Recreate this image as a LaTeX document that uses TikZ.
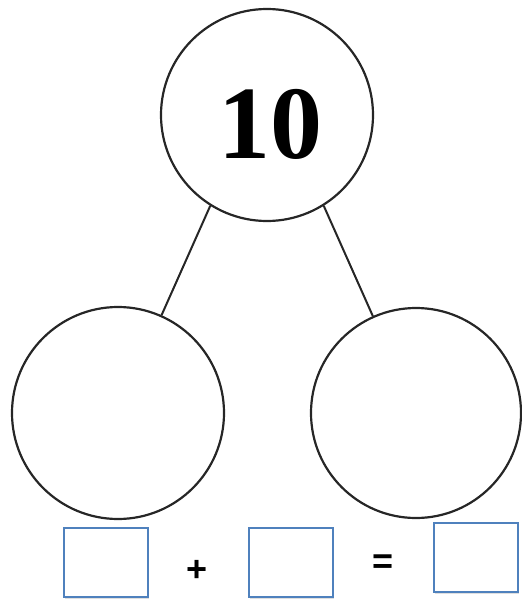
\documentclass[tikz,border=0pt]{standalone}
\usepackage{fontspec}
\newfontfamily\numfont{Liberation Serif}
\newfontfamily\opfont{Liberation Sans}
\usetikzlibrary{shadows}
\definecolor{boxblue}{HTML}{4F81BD}
\tikzset{
  bond/.style={circle, draw=black!85, line width=2.2pt, minimum size=212pt, inner sep=0pt},
  answerbox/.style={draw=boxblue, line width=1.6pt, fill=white, minimum width=84pt, minimum height=69pt, inner sep=0pt,
    drop shadow={opacity=0.25, shadow xshift=1pt, shadow yshift=-2pt}},
  link/.style={draw=black!85, line width=2pt},
  op/.style={font=\opfont\bfseries\fontsize{36}{36}\selectfont, inner sep=0pt}
}
\begin{document}
\begin{tikzpicture}[x=1pt,y=-1pt]
\useasboundingbox (0,0) rectangle (522,608);
\node[bond] (top) at (267,115) {};
\node[font=\numfont\bfseries\fontsize{104}{104}\selectfont, inner sep=0pt] (ten) at (270,124) {10};
\node[bond] (left) at (118,413) {};
\node[bond, minimum size=210pt] (right) at (416,413) {};
\draw[link] (top.238) -- (left.66);
\draw[link] (top.302) -- (right.114);
\node[answerbox] (b1) at (106,562.5) {};
\node[answerbox] (b2) at (291,562.5) {};
\node[answerbox] (b3) at (476,557.5) {};
\node[op] (plus) at (197,571) {+};
\node[op] (eq) at (383,564) {=};
\end{tikzpicture}
\end{document}
